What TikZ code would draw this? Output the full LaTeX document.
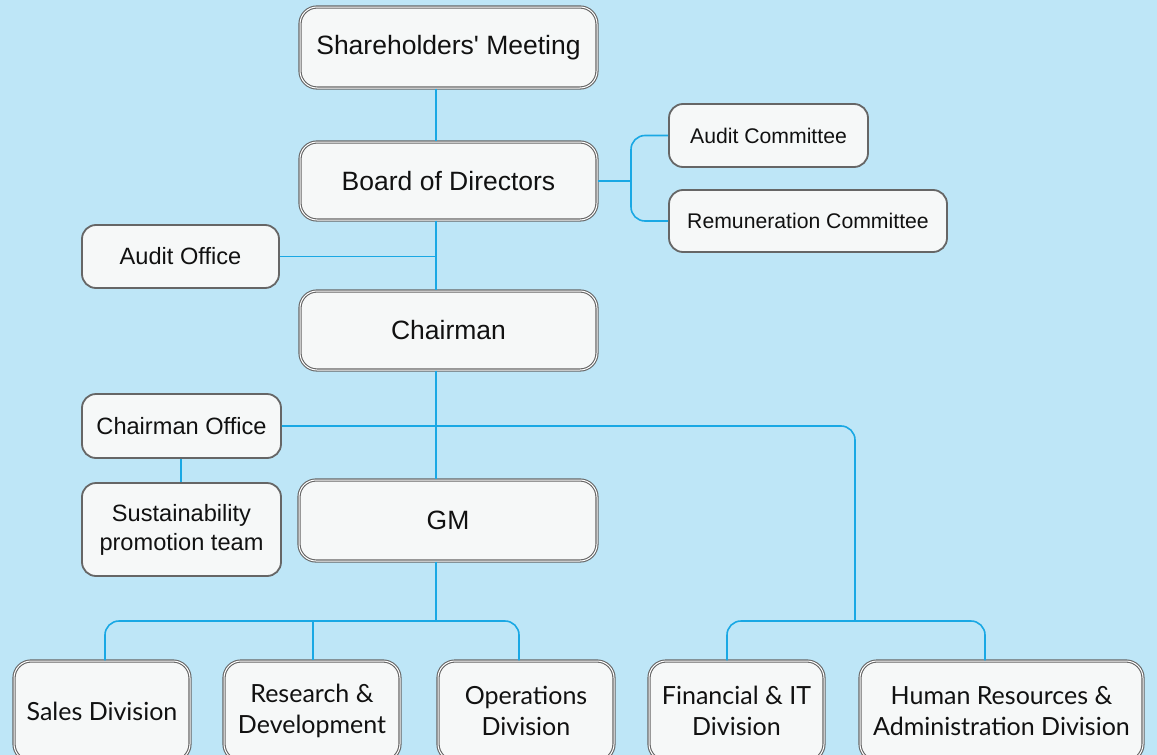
\documentclass[tikz,border=0pt]{standalone}
\usepackage{fontspec}
\setmainfont{Liberation Sans}[Ligatures=TeXOff]
\newfontfamily\divfont{Lato}
\definecolor{bgc}{HTML}{BEE6F7}
\definecolor{linec}{HTML}{1AA8E4}
\definecolor{boxfill}{HTML}{F6F8F8}
\definecolor{boxgray}{HTML}{666666}
\definecolor{txt}{HTML}{111111}
\tikzset{
  x=0.5pt, y=-0.5pt,
  sz/.style 2 args={minimum width=#1*0.5pt, minimum height=#2*0.5pt},
  mainbox/.style={draw=boxgray, line width=0.55pt, double=white, double distance=0.5pt,
    fill=boxfill, rounded corners=8.5pt, inner sep=0pt, text=txt, align=center,
    font=\fontsize{13.25}{16}\selectfont},
  sidebox/.style={draw=boxgray, line width=0.9pt, fill=boxfill, rounded corners=7pt,
    inner sep=0pt, text=txt, align=center, font=\fontsize{11.8}{14.5}\selectfont},
  combox/.style={sidebox, font=\fontsize{10.6}{13}\selectfont},
  divbox/.style={mainbox, font=\divfont\fontsize{12.5}{15.5}\selectfont},
  conn/.style={draw=linec, line width=0.8pt, rounded corners=7pt},
}
\begin{document}
\begin{tikzpicture}
\useasboundingbox (0,0) rectangle (1157,755);
\clip (0,0) rectangle (1157,755);
\fill[bgc] (0,0) rectangle (1157,755);
\coordinate (t) at (436,0);
\coordinate (cm) at (631,0);
\coordinate (rb) at (855,0);
\coordinate (by) at (0,621);

\node[mainbox, sz={297}{81}] (sh) at (448.5,47.5) {Shareholders' Meeting};
\node[mainbox, sz={297}{78}] (bod) at (448.5,181) {Board of Directors};
\node[combox, sz={199}{63}] (ac) at (768.5,135.5) {Audit Committee};
\node[combox, sz={278}{62}] (rc) at (808,221) {Remuneration Committee};
\node[sidebox, sz={197}{63}] (ao) at (180.5,256.5) {Audit Office};
\node[mainbox, sz={297}{79}] (ch) at (448.5,330.5) {Chairman};
\node[sidebox, sz={199}{64}] (co) at (181.5,426) {Chairman Office};
\node[sidebox, sz={199}{93}] (st) at (181.5,529.5) {Sustainability\\promotion team};
\node[mainbox, sz={298}{81}] (gm) at (448,520.5) {GM};
\node[divbox, sz={176}{100}] (sales) at (102,711) {Sales Division};
\node[divbox, sz={176}{100}] (rd) at (312,711) {Research \&\\Development};
\node[divbox, sz={176}{100}] (op) at (526,711) {Operations\\Division};
\node[divbox, sz={175}{100}] (fin) at (736.5,711) {Financial \& IT\\Division};
\node[divbox, sz={283}{100}] (hr) at (1001.5,711) {Human Resources \&\\Administration Division};

\draw[conn] (sh.south -| t) -- (bod.north -| t);
\draw[conn] (bod.south -| t) -- (ch.north -| t);
\draw[conn] (ao.east) -- (ao.east -| t);
\draw[conn] (bod.east) -- (bod.east -| cm);
\draw[conn] (ac.west) -| (cm |- bod.east);
\draw[conn] (rc.west) -| (cm |- bod.east);
\draw[conn] (ch.south -| t) -- (gm.north -| t);
\draw[conn] (co.east) -| (rb |- by);
\draw[conn] (co.south -| 181,0) -- (st.north -| 181,0);
\draw[conn] (gm.south -| t) -- (by -| t);
\draw[conn] (sales.north -| 105,0) |- (by -| 519,0) -- (op.north -| 519,0);
\draw[conn] (rd.north -| 313,0) -- (by -| 313,0);
\draw[conn] (fin.north -| 727,0) |- (by -| 985,0) -- (hr.north -| 985,0);
\end{tikzpicture}
\end{document}
